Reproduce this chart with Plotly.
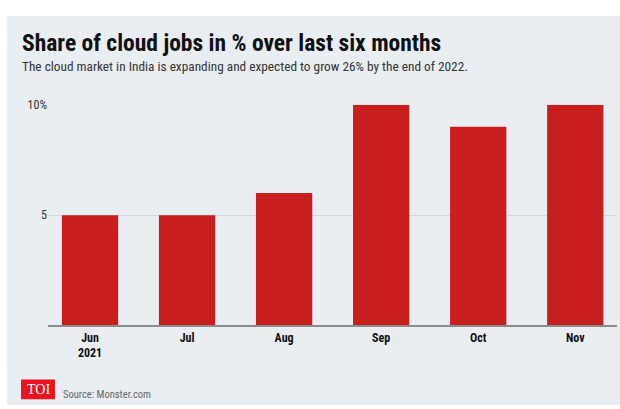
import plotly.graph_objects as go

months = ["Jun<br>2021", "Jul", "Aug", "Sep", "Oct", "Nov"]
shares = [5, 5, 6, 10, 9, 10]
ytick_vals = [5, 10]
ytick_text = ["5", "10%"]

W, H = 620, 409
def px(x): return x / W
def py(y): return 1 - y / H

COND = "Liberation Sans Narrow, Roboto Condensed, Arial Narrow, sans-serif"

fig = go.Figure()
fig.add_trace(go.Bar(
    x=list(range(len(months))), y=shares,
    marker=dict(color="#c81e1e", line=dict(width=0)),
    hoverinfo="skip",
))

fig.update_layout(
    width=W, height=H,
    margin=dict(l=0, r=0, t=0, b=0),
    paper_bgcolor="white",
    plot_bgcolor="rgba(0,0,0,0)",
    showlegend=False,
    bargap=0.42,
    xaxis=dict(
        domain=[px(48), px(617)],
        range=[-0.433, 5.43],
        tickvals=list(range(len(months))),
        ticktext=["<b>%s</b>" % m for m in months],
        tickfont=dict(family=COND, size=12, color="#111"),
        showgrid=False, zeroline=False,
        showline=True, linecolor="#8c8c8c", linewidth=2,
        ticks="", ticklen=0,
    ),
    yaxis=dict(
        domain=[py(324), py(99.5)],
        range=[0, 10],
        tickvals=ytick_vals, ticktext=ytick_text,
        tickfont=dict(family=COND, size=12, color="#333"),
        showgrid=True, gridcolor="#d4d8dd", gridwidth=1,
        zeroline=False, showline=False, ticks="",
    ),
    shapes=[
        dict(type="rect", xref="paper", yref="paper",
             x0=px(7), x1=1, y0=py(405), y1=py(9),
             fillcolor="#e9eef3", line=dict(width=0), layer="below"),
        dict(type="rect", xref="paper", yref="paper",
             x0=px(21), x1=px(55), y0=py(399), y1=py(379),
             fillcolor="#e8141e", line=dict(width=0)),
    ],
    annotations=[
        dict(text="<b>Share of cloud jobs in % over last six months</b>",
             xref="paper", yref="paper", x=px(20), y=py(37),
             xanchor="left", yanchor="middle", showarrow=False,
             font=dict(family=COND, size=23.5, color="#111")),
        dict(text="The cloud market in India is expanding and expected to grow 26% by the end of 2022.",
             xref="paper", yref="paper", x=px(20), y=py(61),
             xanchor="left", yanchor="middle", showarrow=False,
             font=dict(family=COND, size=13.3, color="#333")),
        dict(text="TOI",
             xref="paper", yref="paper", x=px(38), y=py(389),
             xanchor="center", yanchor="middle", showarrow=False,
             font=dict(family="Liberation Serif, serif", size=14, color="white")),
        dict(text="Source: Monster.com",
             xref="paper", yref="paper", x=px(61), y=py(394),
             xanchor="left", yanchor="middle", showarrow=False,
             font=dict(family=COND, size=10.5, color="#666")),
    ],
)

fig.write_html("out.html")
